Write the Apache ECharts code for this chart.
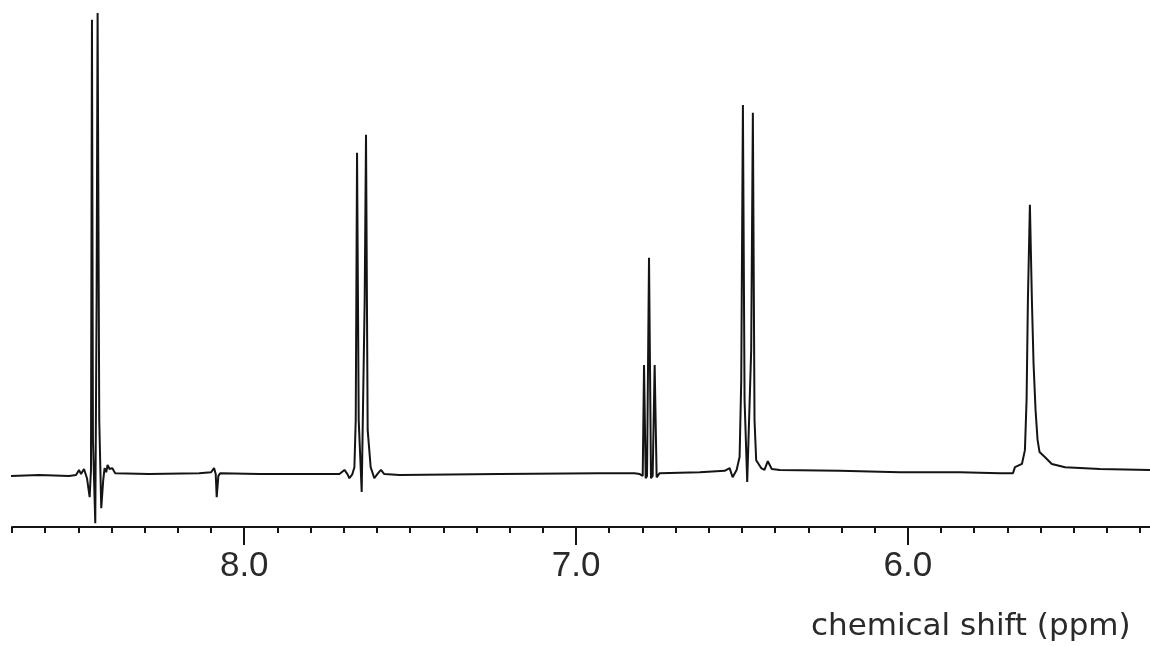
<!DOCTYPE html>
<html>
<head>
<meta charset="utf-8">
<title>1H NMR spectrum</title>
<script src="https://cdn.jsdelivr.net/npm/echarts@6/dist/echarts.min.js"></script>
<style>
  html, body { margin: 0; padding: 0; background: #fff; }
  #chart { width: 1150px; height: 646px; }
</style>
</head>
<body>
<div id="chart"></div>
<script>
// trace points, left to right (ppm, relative intensity)
const shiftPpm = [
  8.703, 8.618, 8.528, 8.507, 8.498, 8.492, 8.483, 8.474, 8.466, 8.462,
  8.459, 8.456, 8.449, 8.445, 8.442, 8.437, 8.431, 8.425, 8.421, 8.416,
  8.412, 8.406, 8.398, 8.389, 8.287, 8.136, 8.100, 8.091, 8.086, 8.083,
  8.078, 8.072, 7.955, 7.834, 7.713, 7.698, 7.689, 7.683, 7.674, 7.668,
  7.664, 7.660, 7.655, 7.646, 7.637, 7.633, 7.628, 7.619, 7.608, 7.599,
  7.588, 7.578, 7.532, 7.231, 6.929, 6.824, 6.808,
  6.799, 6.795, 6.790, 6.786, 6.780, 6.774, 6.769, 6.763, 6.757, 6.748,
  6.627, 6.552, 6.537, 6.528, 6.516, 6.507, 6.502, 6.497, 6.492, 6.484,
  6.472, 6.467, 6.462, 6.457, 6.442, 6.432, 6.422, 6.410, 6.386, 6.205,
  6.024, 5.843, 5.722, 5.683, 5.677, 5.656, 5.647, 5.642, 5.638, 5.632,
  5.626, 5.621, 5.615, 5.609, 5.603, 5.587, 5.566, 5.526, 5.421, 5.270
];
const intensity = [
  -0.4, -0.2, -0.4, -0.2, 0.9, 0.0, 1.1, -0.9, -5.0, 0.9,
  98.7, 7.4, -10.7, 37.8, 100.2, 11.7, -7.4, -1.3, 1.3, 0.4,
  2.0, 1.1, 1.3, 0.2, 0.0, 0.2, 0.4, 1.3, 0.0, -5.0,
  -0.4, 0.2, 0.0, 0.0, 0.0, 0.9, 0.0, -0.9, 0.0, 1.5,
  11.7, 69.8, 11.7, -3.9, 37.8, 73.7, 9.6, 1.5, -0.9, 0.0,
  0.9, 0.0, -0.2, 0.0, 0.2, 0.2, 0.0,
  -0.4, 23.7, -0.9, -0.4, 47.0, -0.9, -0.4, 23.7, -0.7, 0.2,
  0.4, 0.7, 1.3, -0.7, 0.9, 3.7, 20.4, 80.2, 16.1, -1.7,
  27.0, 78.5, 11.7, 3.0, 1.3, 0.9, 2.8, 1.1, 0.9, 0.7,
  0.4, 0.4, 0.2, 0.2, 1.5, 2.2, 5.2, 16.1, 37.8, 58.5,
  37.8, 24.0, 14.0, 7.5, 4.8, 3.7, 2.2, 1.5, 1.1, 0.9
];

// axis ticks
const majorTicks = [8.0, 7.0, 6.0];
const minorTicks = [];
for (let i = 53; i <= 87; i++) {
  if (i % 10 !== 0) minorTicks.push(i / 10);
}
const xMin = 5.27, xMax = 8.70;

const spectrum = shiftPpm.map((s, i) => [s, intensity[i]]);
const ink = '#141414';
const textInk = '#2a2a2a';

const chart = echarts.init(document.getElementById('chart'));
chart.setOption({
  animation: false,
  backgroundColor: '#fff',
  title: {
    text: 'chemical shift (ppm)',
    left: 806,
    top: 606,
    textStyle: { fontFamily: 'DejaVu Sans', fontSize: 31, fontWeight: 'normal', color: textInk }
  },
  grid: { left: 12, right: 0, top: 0, bottom: 119, outerBoundsMode: 'none' },
  xAxis: [
    {
      type: 'value', min: xMin, max: xMax, inverse: true, position: 'bottom',
      splitLine: { show: false },
      axisLine: { onZero: false, lineStyle: { color: ink, width: 2 } },
      axisTick: { customValues: majorTicks, length: 18, lineStyle: { color: ink, width: 2 } },
      axisLabel: {
        customValues: majorTicks, margin: 22,
        fontFamily: 'Liberation Sans', fontSize: 35, color: textInk,
        formatter: v => v.toFixed(1)
      }
    },
    {
      type: 'value', min: xMin, max: xMax, inverse: true, position: 'bottom',
      splitLine: { show: false },
      axisLine: { show: false, onZero: false },
      axisTick: { customValues: minorTicks, length: 6, lineStyle: { color: ink, width: 2 } },
      axisLabel: { show: false }
    }
  ],
  yAxis: { type: 'value', min: -11.5, max: 103, show: false },
  series: [{
    type: 'line',
    data: spectrum,
    showSymbol: false,
    lineStyle: { color: ink, width: 2 },
    clip: false
  }]
});
</script>
</body>
</html>
